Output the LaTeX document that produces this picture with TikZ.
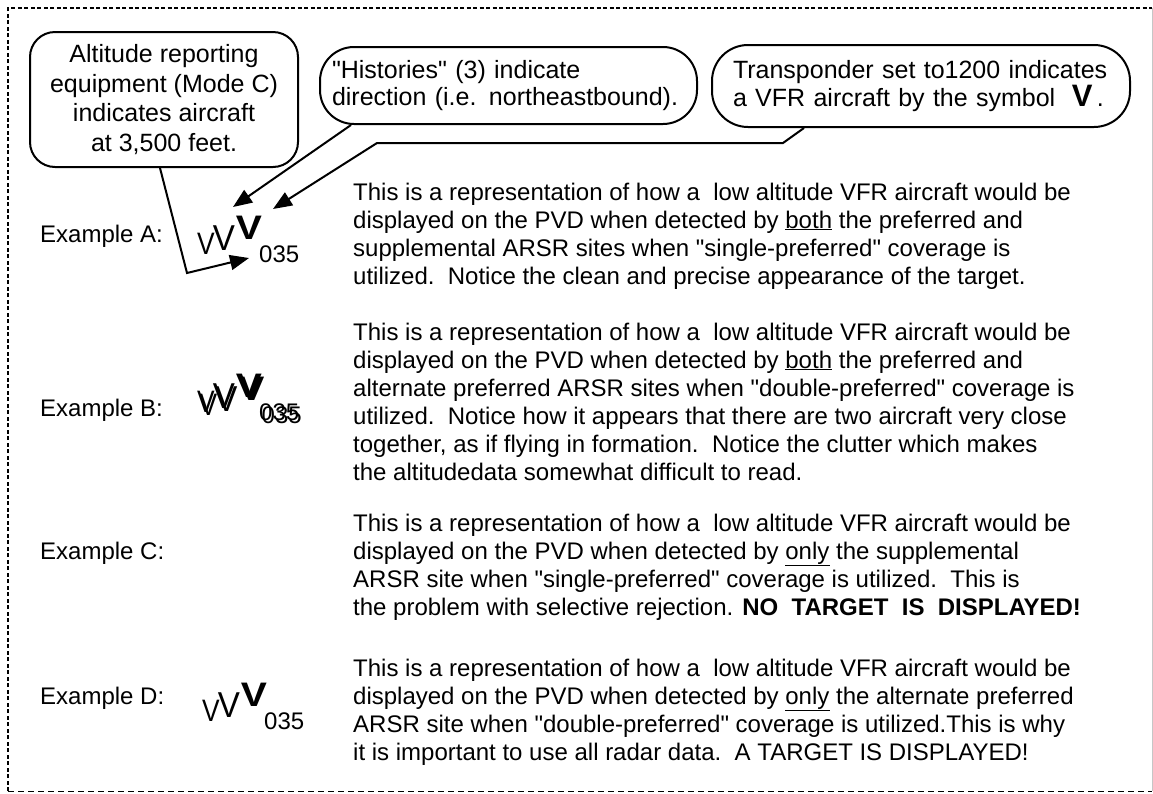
\documentclass[tikz,border=0pt]{standalone}
\usepackage{fontspec}
\setmainfont{Liberation Sans}[Ligatures=TeXOff]
\usepackage{tikz}
\usetikzlibrary{positioning, arrows.meta}
\tikzset{
  callout/.style={draw, line width=2pt, inner ysep=0pt},
  pointer/.style={line width=2pt, -{Triangle[length=19pt,width=15pt]}},
  para/.style={anchor=base west, align=left, inner sep=0pt, font=\fontsize{24}{28}\selectfont},
  exlabel/.style={anchor=base west, inner sep=0pt, font=\fontsize{24}{28}\selectfont},
  histv/.style={inner sep=0pt, transform shape},
  vfrv/.style={inner sep=0pt, font=\fontsize{34}{34}\selectfont\bfseries, transform shape, xscale=1.15},
  alt/.style={anchor=base west, inner sep=0pt, font=\fontsize{24}{24}\selectfont}
}

\begin{document}
\begin{tikzpicture}[x=1pt, y=-1pt]
  \useasboundingbox (0,0) rectangle (1153,793);
  \draw[line width=1pt, dash pattern=on 6pt off 4pt] (8,791) -- (1152,791);
  \draw[gray!45, line width=.8pt] (1152,8) -- (1152,791);
  \draw[line width=2.6pt, dash pattern=on 4pt off 2.5pt] (8,791) -- (8,8) -- (1152,8);

  \node[callout, rounded corners=25pt, minimum width=268pt, minimum height=135pt, align=center,
        font=\fontsize{25}{29.5}\selectfont] (altbox) at (164,99.5)
        {Altitude reporting\\equipment (Mode C)\\indicates aircraft\\at 3,500 feet.};
  \node[callout, rounded corners=34pt, minimum height=77pt, inner xsep=12pt, text width=353pt, align=left,
        font=\fontsize{25}{27.5}\selectfont] (histbox) at (508.5,85.5)
        {"Histories" (3) indicate\\direction (i.e. northeastbound).};
  \node[callout, rounded corners=36pt, minimum height=82pt, inner xsep=21pt, text width=376pt, align=left,
        font=\fontsize{25}{28}\selectfont] (transbox) at (921,86)
        {Transponder set to1200 indicates\\a VFR aircraft by the symbol\ \ {\fontsize{31}{28}\selectfont\bfseries V}\,.};

  \node[exlabel] (exA) at (40,242) {Example A:};
  \node[exlabel] (exB) at (40,416) {Example B:};
  \node[exlabel] (exC) at (40,559) {Example C:};
  \node[exlabel] (exD) at (40,704) {Example D:};

  \foreach \ex/\dx/\dy in {A/0/0, Bs/0/158, B/2.5/161, D/5/467} {
    \node[histv, font=\fontsize{31}{31}\selectfont, xscale=.85] (v\ex-1) at ({206+\dx},{243.5+\dy}) {V};
    \node[histv, font=\fontsize{36}{36}\selectfont, xscale=.92] (v\ex-2) at ({224+\dx},{238.5+\dy}) {V};
    \node[vfrv]  (v\ex-3) at ({249+\dx},{227.5+\dy}) {V};
    \node[alt]   (alt\ex) at ({259+\dx},{262+\dy}) {035};
  }

  \coordinate (bendA) at (187,273);
  \coordinate (tipAlt) at (249,258);
  \coordinate (tipHist) at (233,207);
  \coordinate (trBendA) at (783,143);
  \coordinate (trBendB) at (377,143);
  \coordinate (tipVfr) at (273,209);
  \draw[pointer] ([xshift=-4pt]altbox.south) -- (bendA) -- (tipAlt);
  \draw[pointer] ([xshift=32pt]histbox.south west) -- (tipHist);
  \draw[pointer] ([xshift=93pt]transbox.south west) -- (trBendA) -- (trBendB) -- (tipVfr);

  \node[para] (txtA) at (353,284) {This is a representation of how a\ \ low altitude VFR aircraft would be\\
    displayed on the PVD when detected by \underline{both} the preferred and\\
    supplemental ARSR sites when "single-preferred" coverage is\\
    utilized.\ \ Notice the clean and precise appearance of the target.};
  \node[para] (txtB) at (353,480) {This is a representation of how a\ \ low altitude VFR aircraft would be\\
    displayed on the PVD when detected by \underline{both} the preferred and\\
    alternate preferred ARSR sites when "double-preferred" coverage is\\
    utilized.\ \ Notice how it appears that there are two aircraft very close\\
    together, as if flying in formation.\ \ Notice the clutter which makes\\
    the altitudedata somewhat difficult to read.};
  \node[para] (txtC) at (353,615) {This is a representation of how a\ \ low altitude VFR aircraft would be\\
    displayed on the PVD when detected by \underline{only} the supplemental\\
    ARSR site when "single-preferred" coverage is utilized.\ \ This is\\
    the problem with selective rejection. \textbf{NO\ \ TARGET\ \ IS\ \ DISPLAYED!}};
  \node[para] (txtD) at (353,760) {This is a representation of how a\ \ low altitude VFR aircraft would be\\
    displayed on the PVD when detected by \underline{only} the alternate preferred\\
    ARSR site when "double-preferred" coverage is utilized.This is why\\
    it is important to use all radar data.\ \ A TARGET IS DISPLAYED!};
\end{tikzpicture}
\end{document}
